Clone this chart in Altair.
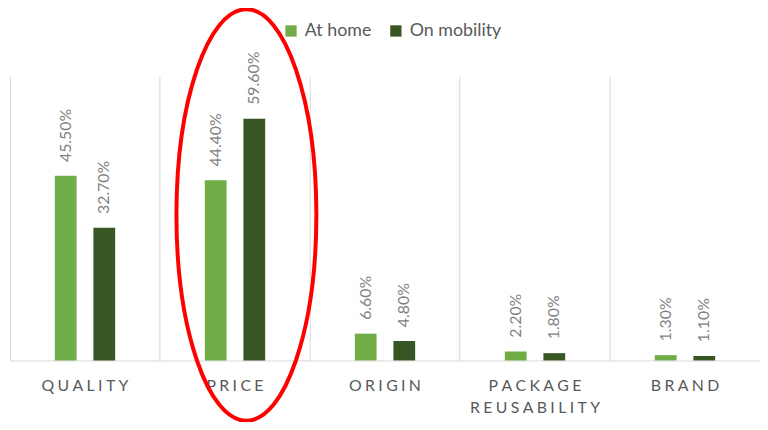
import altair as alt
import pandas as pd

categories = ["QUALITY", "PRICE", "ORIGIN", "PACKAGE REUSABILITY", "BRAND"]
series = ["At home", "On mobility"]
at_home = [45.5, 44.4, 6.6, 2.2, 1.3]
on_mobility = [32.7, 59.6, 4.8, 1.8, 1.1]
colors = ["#70ad47", "#375623"]
highlight = ["PRICE"]

rows = []
for c, a, m in zip(categories, at_home, on_mobility):
    rows.append({"category": c, "series": series[0], "value": a})
    rows.append({"category": c, "series": series[1], "value": m})
df = pd.DataFrame(rows)
df["label"] = df["value"].map(lambda v: f"{v:.2f}%")

FONT = "Lato"
label_expr = "split(replace(datum.label, regexp('(\\\\S)(?=\\\\S)', 'g'), '$1\u2008'), ' ')"

x_enc = alt.X(
    "category:N",
    sort=categories,
    scale=alt.Scale(paddingInner=0, paddingOuter=0),
    axis=alt.Axis(
        title=None, labelAngle=0, grid=True, gridColor="#d9d9d9", gridWidth=1,
        bandPosition=0, ticks=False, domainColor="#d9d9d9", domainWidth=1,
        labelColor="#595959", labelFont=FONT, labelFontSize=16, labelPadding=17,
        labelBaseline="top", labelLineHeight=23, labelExpr=label_expr,
    ),
)
xoff = alt.XOffset("series:N", sort=series,
                   scale=alt.Scale(range=[45.3, 106.3], paddingInner=0.436, paddingOuter=0))
y_enc = alt.Y("value:Q", scale=alt.Scale(domain=[0, 70]), axis=None)

base = alt.Chart(df).encode(x=x_enc, xOffset=xoff, y=y_enc)

bars = base.mark_bar().encode(
    color=alt.Color(
        "series:N", sort=series,
        scale=alt.Scale(domain=series, range=colors),
        legend=alt.Legend(
            title=None, orient="none", direction="horizontal",
            legendX=275, legendY=-55, symbolType="square", symbolSize=130,
            symbolStrokeWidth=0, labelFont=FONT, labelFontSize=18,
            labelColor="#595959", columnPadding=15, labelOffset=5, padding=0,
        ),
    )
)

labels = base.mark_text(
    angle=270, align="left", baseline="middle", dx=14,
    font=FONT, fontSize=16, color="#7f7f7f",
).encode(text="label:N")

ell_path = "M -0.2845 0 A 0.34 1 0 0 1 0.3955 0 A 0.34 1 0 0 1 -0.2845 0 Z"
ellipse = alt.Chart(pd.DataFrame({"category": highlight})).mark_point(
    shape=ell_path, size=173000, filled=False, color="#ff0000",
    strokeWidth=4, opacity=1,
).encode(x=alt.X("category:N", sort=categories), y=alt.value(140))

chart = alt.layer(bars, labels, ellipse).properties(
    width=758, height=287,
    autosize=alt.AutoSizeParams(type="none"),
    padding={"left": 2, "top": 67, "right": 0, "bottom": 60},
).configure_view(stroke=None)

chart.save("out.html", embed_options={"renderer": "svg", "actions": False})
